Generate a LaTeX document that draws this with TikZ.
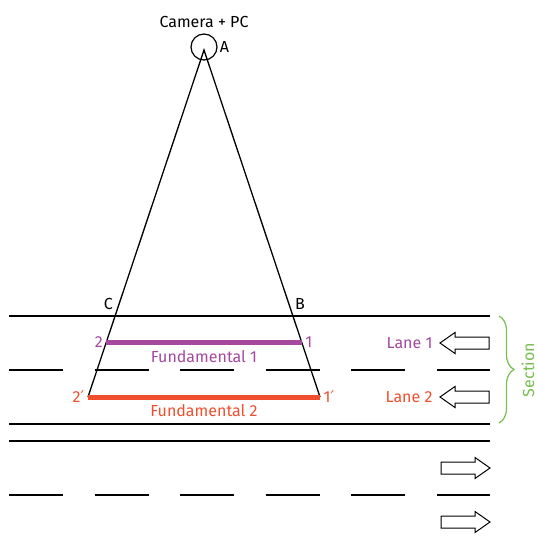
\documentclass[tikz,border=0pt]{standalone}
\usepackage{fontspec}
\setmainfont{Fira Sans}
\newfontfamily\primefont{DejaVu Sans}
\usetikzlibrary{calc,decorations.pathreplacing}

\definecolor{lanepurple}{RGB}{165,72,158}
\definecolor{lanered}{RGB}{240,78,45}
\definecolor{sectgreen}{RGB}{118,190,78}

\newcommand\prm{{\primefont ′}}

\begin{document}
\begin{tikzpicture}[
  x=1pt,y=-1pt,
  font=\fontsize{16}{18}\selectfont,
  road/.style={line width=1.8pt},
  lanedash/.style={line width=1.5pt,dash pattern=on 54pt off 31.6pt},
  ray/.style={line width=1.3pt},
  fund/.style={line width=5pt},
  cam/.style={circle,draw,line width=1.2pt,minimum size=26pt,inner sep=0pt},
  lbl/.style={inner sep=3.5pt},
  leftarrow/.pic={\draw[line width=1pt] (0,0) -- (15,-10.5) -- (15,-6) -- (49,-6)
    -- (49,6) -- (15,6) -- (15,10.5) -- cycle;},
  rightarrow/.pic={\draw[line width=1pt] (49,0) -- (34,-10.5) -- (34,-6) -- (0,-6)
    -- (0,6) -- (34,6) -- (34,10.5) -- cycle;}
]
  \useasboundingbox (0,0) rectangle (538,549);

  % road
  \foreach \y in {316,424,441}
    \draw[road] (9,\y) -- (490,\y);
  \foreach \y in {370,495}
    \draw[lanedash] (9,\y) -- (490,\y);

  % camera and field of view
  \node[cam] (camera) at (204,47) {};
  \node[anchor=south] (camtext) at (204,31) {Camera + PC};
  \node[inner sep=2pt,anchor=west] (labA) at (camera.east) {A};
  \coordinate (apex) at (204,50);
  \coordinate (p2p) at (88,397);
  \coordinate (p1p) at (320,397);
  \coordinate (C) at ($(apex)!0.7666!(p2p)$);
  \coordinate (B) at ($(apex)!0.7666!(p1p)$);
  \coordinate (p2) at ($(apex)!0.8415!(p2p)$);
  \coordinate (p1) at ($(apex)!0.8415!(p1p)$);
  \draw[ray] (p2p) -- (apex) -- (p1p);

  \node[inner sep=2pt,anchor=south east,yshift=4pt] (labC) at (C) {C};
  \node[inner sep=2pt,anchor=south west,yshift=4pt] (labB) at (B) {B};

  % fundamentals
  \draw[fund,lanepurple] (p2) -- (p1);
  \draw[fund,lanered] (p2p) -- (p1p);
  \node[lbl,anchor=east,text=lanepurple] (lab2) at (p2) {2};
  \node[lbl,anchor=west,text=lanepurple] (lab1) at (p1) {1};
  \node[lbl,anchor=east,text=lanered] (lab2p) at (p2p) {2\prm};
  \node[lbl,anchor=west,text=lanered] (lab1p) at (p1p) {1\prm};
  \node[text=lanepurple] (fund1) at ($(p2)!0.5!(p1)+(0,15)$) {Fundamental 1};
  \node[text=lanered] (fund2) at ($(p2p)!0.5!(p1p)+(0,14)$) {Fundamental 2};

  % lanes
  \pic at (440,343) {leftarrow};
  \pic at (440,397) {leftarrow};
  \pic at (441,468) {rightarrow};
  \pic at (441,522) {rightarrow};
  \node[anchor=east,text=lanepurple] (lane1) at (436,343) {Lane 1};
  \node[anchor=east,text=lanered] (lane2) at (436,397) {Lane 2};

  % section
  \coordinate (stop) at (499,316);
  \coordinate (sbot) at (499,423);
  \draw[sectgreen,line width=1.2pt,decorate,
    decoration={brace,amplitude=15pt}] (stop) -- (sbot);
  \node[text=sectgreen,rotate=90] (section) at (528,370) {Section};
\end{tikzpicture}
\end{document}
